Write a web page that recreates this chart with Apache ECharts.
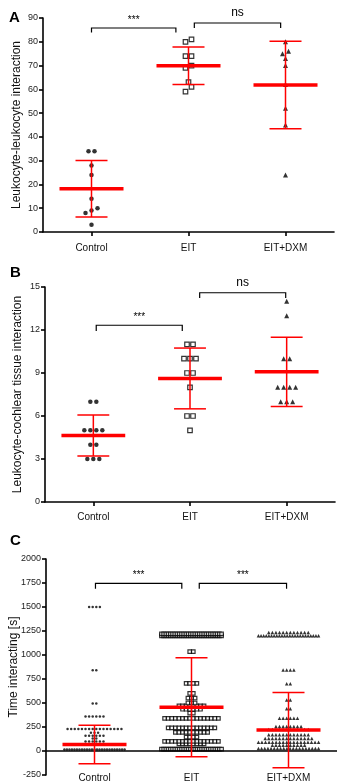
<!DOCTYPE html>
<html>
<head>
<meta charset="utf-8">
<script src="https://cdn.jsdelivr.net/npm/echarts@6.0.0/dist/echarts.min.js"></script>
<style>
  html, body { margin: 0; padding: 0; background: #fff; }
  #chart { width: 340px; height: 783px; }
</style>
</head>
<body>
<div id="chart"></div>
<script>
const categories = ['Control', 'EIT', 'EIT+DXM'];

// A: leukocyte-leukocyte interaction
const aControl = [34, 34, 28, 24, 14, 10, 9, 8, 3];
const aEIT = [81, 80, 74, 74, 70, 69, 63, 61, 59];
const aDXM = [80, 76, 75, 73, 70, 62, 52, 45, 24];
const aMean = [18.2, 69.9, 61.8];
const aSD = [11.9, 7.9, 18.4];
const aTicks = [0, 10, 20, 30, 40, 50, 60, 70, 80, 90];
const aBrackets = [[0.0, 0.87, 85.8, 83.9], [1.06, 1.95, 87.9, 85.8]];
const aSig = ['***', 'ns'];

// B: leukocyte-cochlear tissue interaction
const bControl = [7, 7, 5, 5, 5, 5, 4, 4, 3, 3, 3];
const bEIT = [11, 11, 10, 10, 10, 9, 9, 8, 6, 6, 5];
const bDXM = [14, 13, 10, 10, 8, 8, 8, 8, 7, 7, 7];
const bMean = [4.64, 8.62, 9.08];
const bSD = [1.43, 2.12, 2.41];
const bTicks = [0, 3, 6, 9, 12, 15];
const bBrackets = [[0.03, 0.92, 12.33, 11.93], [1.1, 1.99, 14.6, 14.23]];
const bSig = ['***', 'ns'];

// C: time interacting [s]
const cControl = [
  1500, 1500, 1500, 1500,
  840, 840,
  495, 495,
  360, 360, 360, 360, 360, 360,
  230, 230, 230, 230, 230, 230, 230, 230, 230, 230, 230, 230, 230, 230, 230, 230,
  190, 190, 190,
  160, 160, 160, 160, 160, 160,
  130, 130,
  100, 100, 100, 100, 100, 100,
  70, 70, 70, 70, 70, 70, 70, 70,
  15, 15, 15, 15, 15, 15, 15, 15, 15, 15, 15, 15, 15, 15, 15, 15, 15, 15, 15, 15, 15, 15, 15, 15, 15
];
const cEIT = [
  1220, 1220, 1220, 1220, 1220, 1220, 1220, 1220, 1220, 1220, 1220, 1220, 1220, 1220,
  1220, 1220, 1220, 1220, 1220, 1220, 1220, 1220, 1220, 1220, 1220, 1220, 1220, 1220,
  1200, 1200, 1200, 1200, 1200, 1200, 1200, 1200, 1200, 1200, 1200, 1200, 1200, 1200,
  1200, 1200, 1200, 1200, 1200, 1200, 1200, 1200, 1200, 1200, 1200, 1200, 1200, 1200,
  1035, 1035,
  705, 705, 705, 705,
  600, 600,
  550, 550, 550,
  500, 500, 500,
  470, 470, 470, 470, 470, 470, 470, 470,
  435, 435, 435, 435, 435, 435,
  395, 395,
  340, 340, 340, 340, 340, 340, 340, 340, 340, 340, 340, 340, 340, 340, 340, 340,
  240, 240, 240, 240, 240, 240, 240, 240, 240, 240, 240, 240, 240, 240,
  195, 195, 195, 195, 195, 195, 195, 195, 195, 195,
  145, 145, 145, 145,
  100, 100, 100, 100, 100, 100, 100, 100, 100, 100, 100, 100, 100, 100, 100, 100,
  75, 75, 75, 75, 75, 75, 75, 75,
  20, 20, 20, 20, 20, 20, 20, 20, 20, 20, 20, 20, 20, 20, 20, 20, 20, 20, 20, 20,
  20, 20, 20, 20, 20, 20, 20, 20
];
const cDXM = [
  1235, 1235, 1235, 1235, 1235, 1235, 1235, 1235, 1235, 1235, 1235, 1235,
  1200, 1200, 1200, 1200, 1200, 1200, 1200, 1200, 1200, 1200, 1200, 1200,
  1200, 1200, 1200, 1200, 1200, 1200, 1200, 1200, 1200, 1200, 1200, 1200,
  845, 845, 845, 845,
  700, 700,
  530, 530,
  440, 440,
  340, 340, 340, 340, 340, 340,
  255, 255, 255, 255, 255, 255, 255, 255,
  225, 225, 225, 225, 225, 225, 225, 225, 225, 225, 225, 225,
  170, 170, 170, 170, 170, 170, 170, 170, 170, 170, 170, 170,
  130, 130, 130, 130, 130, 130, 130, 130, 130, 130, 130, 130, 130, 130,
  90, 90, 90, 90, 90, 90, 90, 90, 90, 90, 90, 90, 90, 90, 90, 90, 90, 90,
  60, 60, 60, 60, 60, 60, 60, 60, 60, 60,
  25, 25, 25, 25, 25, 25, 25, 25, 25, 25, 25, 25, 25, 25, 25, 25, 25, 25, 25, 25
];
const cMean = [68, 455, 218];
const cSD = [200, 516, 392];
const cTicks = [-250, 0, 250, 500, 750, 1000, 1250, 1500, 1750, 2000];
const cBrackets = [[0.01, 0.9, 1746, 1690], [1.08, 1.98, 1746, 1690]];
const cSig = ['***', '***'];

const RED = '#ff0000';
const SANS = "'Liberation Sans', Arial, sans-serif";

// spread points of one column side by side, like a dot plot
function swarm(values, idx, bin, step, maxHalf) {
  const groups = {};
  values.forEach(v => {
    const k = Math.round(v / bin);
    (groups[k] = groups[k] || []).push(v);
  });
  const pts = [];
  Object.keys(groups).forEach(k => {
    const g = groups[k].slice().sort((a, b) => a - b);
    const n = g.length;
    const s = n > 1 ? Math.min(step, 2 * maxHalf / (n - 1)) : 0;
    g.forEach((v, i) => pts.push([idx + (i - (n - 1) / 2) * s, v]));
  });
  return pts;
}

function dots(xi, yi, values, idx, symbol, size, open, bin, step) {
  return {
    type: 'scatter', xAxisIndex: xi, yAxisIndex: yi, z: 3,
    symbol: symbol, symbolSize: size,
    itemStyle: open
      ? { color: '#fff', borderColor: '#000', borderWidth: 1.2 }
      : { color: '#000' },
    data: swarm(values, idx, bin, step, 0.31)
  };
}

function errorBars(xi, yi, means, sds) {
  return {
    type: 'custom', xAxisIndex: xi, yAxisIndex: yi, z: 10,
    data: means.map((m, i) => [i, m, sds[i]]),
    renderItem(params, api) {
      const x = api.value(0), m = api.value(1), sd = api.value(2);
      const mid = api.coord([x, m]);
      const hi = api.coord([x, m + sd]);
      const lo = api.coord([x, m - sd]);
      const unit = api.size([1, 0])[0];
      const hline = (y, half, w) => ({
        type: 'line',
        shape: { x1: mid[0] - half * unit, y1: y, x2: mid[0] + half * unit, y2: y },
        style: { stroke: RED, lineWidth: w }
      });
      return {
        type: 'group',
        children: [
          { type: 'line', shape: { x1: mid[0], y1: hi[1], x2: mid[0], y2: lo[1] }, style: { stroke: RED, lineWidth: 1.5 } },
          hline(hi[1], 0.165, 1.5),
          hline(lo[1], 0.165, 1.5),
          hline(mid[1], 0.33, 3.5)
        ]
      };
    }
  };
}

function brackets(xi, yi, list, labels) {
  return {
    type: 'custom', xAxisIndex: xi, yAxisIndex: yi, z: 10,
    encode: { x: [0, 1], y: [2, 3] },
    data: list,
    renderItem(params, api) {
      const b = list[params.dataIndex];
      const lab = labels[params.dataIndex];
      const p1 = api.coord([b[0], b[2]]);
      const p2 = api.coord([b[1], b[2]]);
      const yb = api.coord([b[0], b[3]])[1];
      const star = lab.indexOf('*') >= 0;
      return {
        type: 'group',
        children: [
          {
            type: 'polyline',
            shape: { points: [[p1[0], yb], [p1[0], p1[1]], [p2[0], p1[1]], [p2[0], yb]] },
            style: { stroke: '#000', lineWidth: 1.2, fill: null }
          },
          {
            type: 'text',
            style: {
              text: lab, x: (p1[0] + p2[0]) / 2, y: p1[1] - (star ? 3 : 4),
              align: 'center', verticalAlign: 'bottom',
              font: (star ? '10px ' : '12px ') + SANS, fill: '#000'
            }
          }
        ]
      };
    }
  };
}

// horizontal axis line drawn at y = 0 (panel C)
function zeroLine(xi, yi) {
  return {
    type: 'custom', xAxisIndex: xi, yAxisIndex: yi, z: 6,
    data: [[0, 0]],
    renderItem(params, api) {
      const a = api.coord([-0.5, 0]);
      const b = api.coord([2.5, 0]);
      return { type: 'line', shape: { x1: a[0], y1: a[1], x2: b[0], y2: b[1] }, style: { stroke: '#000', lineWidth: 1.6 } };
    }
  };
}

function catAxis(grid, margin, line) {
  return {
    type: 'category', gridIndex: grid, data: categories,
    axisLine: { show: line, onZero: false, lineStyle: { color: '#000', width: 1.6 } },
    axisTick: { show: line, alignWithLabel: true, length: 4, lineStyle: { color: '#000', width: 1.6 } },
    axisLabel: { margin: margin, fontSize: 10, fontFamily: SANS, color: '#111' },
    splitLine: { show: false }
  };
}

function valXAxis(grid) {
  return { type: 'value', gridIndex: grid, min: -0.5, max: 2.5, show: false, splitLine: { show: false } };
}

function valYAxis(grid, ticks, name, gap) {
  return {
    type: 'value', gridIndex: grid,
    min: ticks[0], max: ticks[ticks.length - 1], interval: ticks[1] - ticks[0],
    name: name, nameLocation: 'middle', nameGap: gap, nameMoveOverlap: false,
    nameTextStyle: { fontSize: 12, fontFamily: SANS, color: '#111' },
    axisLine: { show: true, onZero: false, lineStyle: { color: '#000', width: 1.6 } },
    axisTick: { show: true, length: 4, lineStyle: { color: '#000', width: 1.6 } },
    axisLabel: { margin: 5, fontSize: 9, fontFamily: SANS, color: '#222', formatter: v => String(v) },
    splitLine: { show: false }
  };
}

const chart = echarts.init(document.getElementById('chart'), null, { renderer: 'canvas' });

chart.setOption({
  animation: false,
  backgroundColor: '#fff',
  title: [
    { text: 'A', left: 4, top: 5, textStyle: { fontSize: 15, fontWeight: 'bold', fontFamily: SANS, color: '#000' } },
    { text: 'B', left: 5, top: 260, textStyle: { fontSize: 15, fontWeight: 'bold', fontFamily: SANS, color: '#000' } },
    { text: 'C', left: 5, top: 528, textStyle: { fontSize: 15, fontWeight: 'bold', fontFamily: SANS, color: '#000' } }
  ],
  grid: [
    { left: 43, top: 18, width: 291, height: 214, outerBoundsMode: 'none' },
    { left: 45, top: 287, width: 290, height: 215, outerBoundsMode: 'none' },
    { left: 46, top: 559, width: 291, height: 216, outerBoundsMode: 'none' }
  ],
  xAxis: [
    catAxis(0, 11, true), valXAxis(0),
    catAxis(1, 10, true), valXAxis(1),
    catAxis(2, -2, false), valXAxis(2)
  ],
  yAxis: [
    valYAxis(0, aTicks, 'Leukocyte-leukocyte interaction', 20),
    valYAxis(1, bTicks, 'Leukocyte-cochlear tissue interaction', 21),
    valYAxis(2, cTicks, 'Time interacting [s]', 26)
  ],
  series: [
    dots(1, 0, aControl, 0, 'circle', 4.5, false, 3, 0.062),
    dots(1, 0, aEIT, 1, 'rect', 4.5, true, 3, 0.062),
    dots(1, 0, aDXM, 2, 'triangle', 5, false, 3, 0.062),
    errorBars(1, 0, aMean, aSD),
    brackets(1, 0, aBrackets, aSig),

    dots(3, 1, bControl, 0, 'circle', 4.5, false, 0.5, 0.062),
    dots(3, 1, bEIT, 1, 'rect', 4.5, true, 0.5, 0.062),
    dots(3, 1, bDXM, 2, 'triangle', 5, false, 0.5, 0.062),
    errorBars(3, 1, bMean, bSD),
    brackets(3, 1, bBrackets, bSig),

    dots(5, 2, cControl, 0, 'circle', 2.5, false, 25, 0.037),
    dots(5, 2, cEIT, 1, 'rect', 3.5, true, 25, 0.037),
    dots(5, 2, cDXM, 2, 'triangle', 3.5, false, 25, 0.037),
    zeroLine(5, 2),
    errorBars(5, 2, cMean, cSD),
    brackets(5, 2, cBrackets, cSig)
  ]
});
</script>
</body>
</html>
